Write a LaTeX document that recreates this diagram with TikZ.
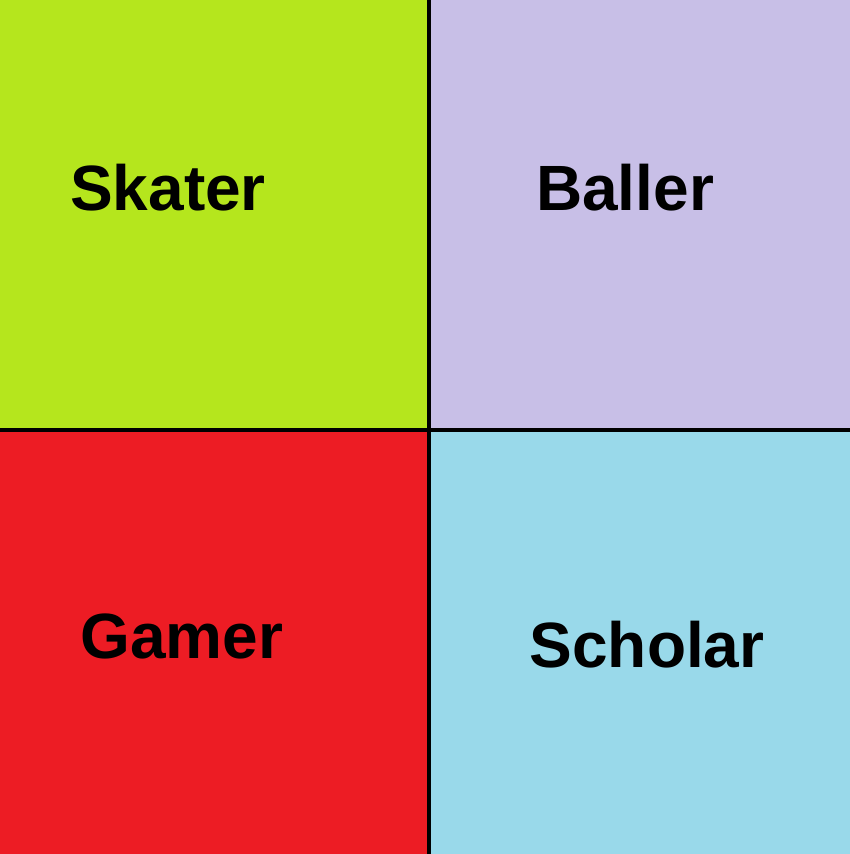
\documentclass[tikz,border=0pt]{standalone}
\usepackage{fontspec}
\setmainfont{Liberation Sans}
\definecolor{cgreen}{HTML}{B5E61D}
\definecolor{clav}{HTML}{C8BFE7}
\definecolor{cred}{HTML}{ED1C24}
\definecolor{cblue}{HTML}{99D9EA}
\tikzset{
  lbl/.style={anchor=base, font=\fontsize{64}{70}\selectfont\bfseries, inner sep=0pt},
  divider/.style={line width=4pt, black}
}
\begin{document}
\begin{tikzpicture}[x=1pt,y=-1pt]
\useasboundingbox (0,0) rectangle (850,854);
\fill[cgreen] (0,0) rectangle (429,430);
\fill[clav] (429,0) rectangle (850,430);
\fill[cred] (0,430) rectangle (429,854);
\fill[cblue] (429,430) rectangle (850,854);
\coordinate (vt) at (429,0);
\coordinate (vb) at (429,854);
\coordinate (hl) at (0,430);
\coordinate (hr) at (850,430);
\draw[divider] (vt) -- (vb);
\draw[divider] (hl) -- (hr);
\node[lbl] (skater) at (168,210) {Skater};
\node[lbl] (baller) at (625,210) {Baller};
\node[lbl] (gamer) at (182,658) {Gamer};
\node[lbl] (scholar) at (647,667) {Scholar};
\end{tikzpicture}
\end{document}
